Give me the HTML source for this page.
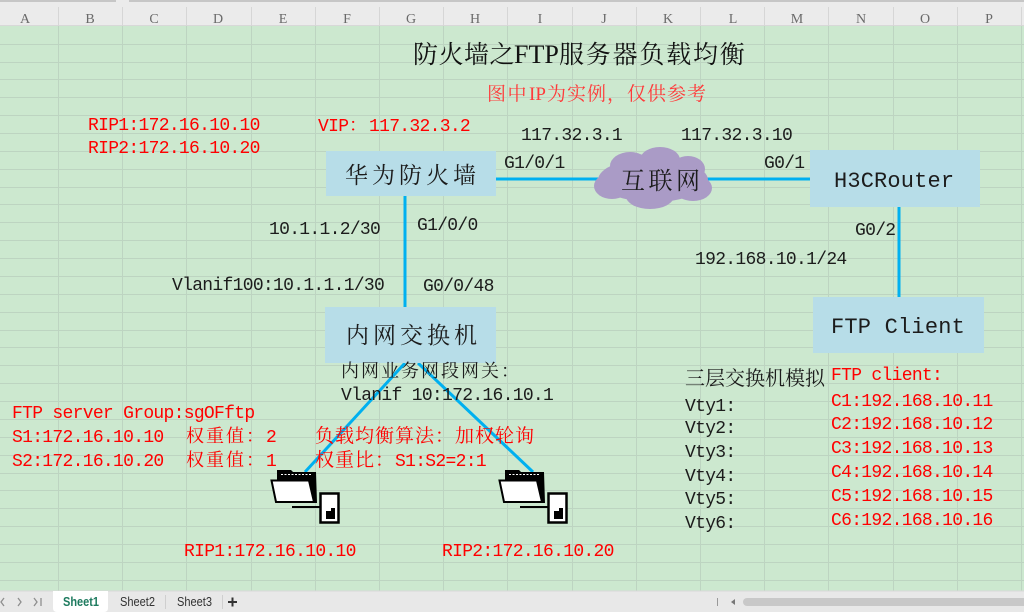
<!DOCTYPE html>
<html><head><meta charset="utf-8">
<style>
html,body{margin:0;padding:0;background:#cce8cf;width:1024px;height:612px;overflow:hidden;}
svg{display:block;}
.m{font-family:"Liberation Mono","Noto Serif CJK SC",monospace;font-size:18px;letter-spacing:-0.7px;}
.c{font-family:"Noto Serif CJK SC","Liberation Serif",serif;}
.s{font-family:"Liberation Serif","Noto Serif CJK SC",serif;}
.k{fill:#1c1c1c;}
.r{fill:#ff0000;}
.h{font-family:"Liberation Serif",serif;font-size:14px;fill:#6a6a6a;text-anchor:middle;}
.t{font-family:"Liberation Sans","Noto Sans CJK SC",sans-serif;font-size:13px;}
</style></head><body>
<svg width="1024" height="612" viewBox="0 0 1024 612" xmlns="http://www.w3.org/2000/svg">
<!-- background -->
<rect x="0" y="0" width="1024" height="612" fill="#cce8cf"/>
<!-- grid -->
<path d="M0 44.5H1024M0 62.5H1024M0 79.5H1024M0 97.5H1024M0 115.5H1024M0 133.5H1024M0 151.5H1024M0 169.5H1024M0 187.5H1024M0 204.5H1024M0 222.5H1024M0 240.5H1024M0 258.5H1024M0 276.5H1024M0 294.5H1024M0 312.5H1024M0 330.5H1024M0 347.5H1024M0 365.5H1024M0 383.5H1024M0 401.5H1024M0 419.5H1024M0 437.5H1024M0 455.5H1024M0 473.5H1024M0 490.5H1024M0 508.5H1024M0 526.5H1024M0 544.5H1024M0 562.5H1024M0 580.5H1024" stroke="#bdd4c1" stroke-width="1" fill="none"/>
<path d="M58.5 26V591M122.5 26V591M186.5 26V591M251.5 26V591M315.5 26V591M379.5 26V591M443.5 26V591M507.5 26V591M572.5 26V591M636.5 26V591M700.5 26V591M764.5 26V591M828.5 26V591M893.5 26V591M957.5 26V591M1021.5 26V591" stroke="#bdd4c1" stroke-width="1" fill="none"/>

<!-- header -->
<rect x="0" y="0" width="1024" height="26" fill="#ebebeb"/>
<rect x="0" y="0" width="116" height="2" fill="#c6c6c6"/>
<rect x="129" y="0" width="895" height="2" fill="#c6c6c6"/>
<rect x="0" y="25" width="1024" height="1" fill="#d8d8d8"/>
<path d="M58.5 7V26M122.5 7V26M186.5 7V26M251.5 7V26M315.5 7V26M379.5 7V26M443.5 7V26M507.5 7V26M572.5 7V26M636.5 7V26M700.5 7V26M764.5 7V26M828.5 7V26M893.5 7V26M957.5 7V26M1021.5 7V26" stroke="#d6d6d6" stroke-width="1"/>
<text class="h" x="25" y="23">A</text>
<text class="h" x="90" y="23">B</text>
<text class="h" x="154" y="23">C</text>
<text class="h" x="218" y="23">D</text>
<text class="h" x="283" y="23">E</text>
<text class="h" x="347" y="23">F</text>
<text class="h" x="411" y="23">G</text>
<text class="h" x="475" y="23">H</text>
<text class="h" x="540" y="23">I</text>
<text class="h" x="604" y="23">J</text>
<text class="h" x="668" y="23">K</text>
<text class="h" x="733" y="23">L</text>
<text class="h" x="797" y="23">M</text>
<text class="h" x="861" y="23">N</text>
<text class="h" x="925" y="23">O</text>
<text class="h" x="989" y="23">P</text>

<!-- title -->
<text class="c" x="413" y="63" font-size="25" letter-spacing="0.5" fill="#111">防火墙之</text>
<text class="s" x="514" y="63" font-size="26" fill="#111">FTP</text>
<text class="c" x="559" y="63" font-size="25" letter-spacing="1.8" fill="#111">服务器负载均衡</text>
<!-- subtitle -->
<text class="c" x="487" y="100" font-size="19" letter-spacing="1.5" fill="#ff3a3a">图中</text>
<text class="s" x="529" y="100" font-size="19" fill="#ff3a3a">IP</text>
<text class="c" x="547" y="100" font-size="19" letter-spacing="1" fill="#ff3a3a">为实例，仅供参考</text>

<!-- connectors -->
<g stroke="#00b0f0" stroke-width="3" fill="none">
<line x1="496" y1="179" x2="615" y2="179"/>
<line x1="695" y1="179" x2="810" y2="179"/>
<line x1="405" y1="196" x2="405" y2="307"/>
<line x1="899" y1="207" x2="899" y2="297"/>
<line x1="405" y1="363" x2="305" y2="472"/>
<line x1="418" y1="363" x2="533" y2="472"/>
</g>

<!-- boxes -->
<rect x="326" y="151" width="170" height="45" fill="#b7dde8"/>
<rect x="810" y="150" width="170" height="57" fill="#b7dde8"/>
<rect x="813" y="297" width="171" height="56" fill="#b7dde8"/>
<rect x="325" y="307" width="171" height="56" fill="#b7dde8"/>

<!-- cloud -->
<g fill="#aa9bc6">
<ellipse cx="653" cy="180" rx="55" ry="22"/>
<ellipse cx="630" cy="166" rx="20" ry="14"/>
<ellipse cx="660" cy="160" rx="20" ry="13"/>
<ellipse cx="688" cy="169" rx="17" ry="13"/>
<ellipse cx="612" cy="186" rx="18" ry="13"/>
<ellipse cx="650" cy="196" rx="24" ry="13"/>
<ellipse cx="693" cy="188" rx="19" ry="13"/>
</g>

<!-- node labels -->
<text class="c k" x="345" y="183" font-size="23" letter-spacing="4">华为防火墙</text>
<text class="c k" x="346" y="343" font-size="23" letter-spacing="4">内网交换机</text>
<text class="c k" x="621" y="189" font-size="24" letter-spacing="3.5">互联网</text>
<text class="m k" x="834" y="187" style="font-size:22px;letter-spacing:0.15px">H3CRouter</text>
<text class="m k" x="831" y="333" style="font-size:22px;letter-spacing:0.2px">FTP Client</text>

<!-- black interface labels -->
<text class="m k" x="521" y="140">117.32.3.1</text>
<text class="m k" x="681" y="140">117.32.3.10</text>
<text class="m k" x="504" y="168">G1/0/1</text>
<text class="m k" x="764" y="168">G0/1</text>
<text class="m k" x="269" y="234">10.1.1.2/30</text>
<text class="m k" x="417" y="230">G1/0/0</text>
<text class="m k" x="172" y="290">Vlanif100:10.1.1.1/30</text>
<text class="m k" x="423" y="291">G0/0/48</text>
<text class="m k" x="855" y="235">G0/2</text>
<text class="m k" x="695" y="264">192.168.10.1/24</text>
<text class="c k" x="341" y="377" font-size="18" letter-spacing="2">内网业务网段网关：</text>
<text class="m k" x="341" y="400">Vlanif 10:172.16.10.1</text>

<!-- red top-left -->
<text class="m r" x="88" y="130">RIP1:172.16.10.10</text>
<text class="m r" x="88" y="153">RIP2:172.16.10.20</text>
<text class="m r" x="318" y="131">VIP</text>
<text class="c r" x="349" y="131" font-size="18">：</text>
<text class="m r" x="369" y="131">117.32.3.2</text>

<!-- red bottom-left -->
<text class="m r" x="12" y="418">FTP server Group:sgOFftp</text>
<text class="m r" x="12" y="442">S1:172.16.10.10</text>
<text class="c r" x="186" y="442" font-size="18" letter-spacing="2">权重值：</text>
<text class="m r" x="266" y="442">2</text>
<text class="m r" x="12" y="466">S2:172.16.10.20</text>
<text class="c r" x="186" y="466" font-size="18" letter-spacing="2">权重值：</text>
<text class="m r" x="266" y="466">1</text>
<text class="c r" x="315" y="442" font-size="19" letter-spacing="1">负载均衡算法：加权轮询</text>
<text class="c r" x="315" y="466" font-size="19" letter-spacing="1">权重比：</text>
<text class="m r" x="395" y="466">S1:S2=2:1</text>
<text class="m r" x="184" y="556">RIP1:172.16.10.10</text>
<text class="m r" x="442" y="556">RIP2:172.16.10.20</text>

<!-- right column -->
<text class="c k" x="685" y="385" font-size="20">三层交换机模拟</text>
<text class="m k" x="685" y="411">Vty1:</text>
<text class="m k" x="685" y="433">Vty2:</text>
<text class="m k" x="685" y="457">Vty3:</text>
<text class="m k" x="685" y="481">Vty4:</text>
<text class="m k" x="685" y="504">Vty5:</text>
<text class="m k" x="685" y="528">Vty6:</text>
<text class="m r" x="831" y="380">FTP client:</text>
<text class="m r" x="831" y="406">C1:192.168.10.11</text>
<text class="m r" x="831" y="429">C2:192.168.10.12</text>
<text class="m r" x="831" y="453">C3:192.168.10.13</text>
<text class="m r" x="831" y="477">C4:192.168.10.14</text>
<text class="m r" x="831" y="501">C5:192.168.10.15</text>
<text class="m r" x="831" y="525">C6:192.168.10.16</text>

<!-- server icons -->
<defs>
<g id="srv">
  <path d="M505 503 L505 470 L519 470 L521 472 L544 472 L545 503 Z" fill="#000"/>
  <line x1="509" y1="474.5" x2="540" y2="474.5" stroke="#fff" stroke-width="1" stroke-dasharray="2 1.5"/>
  <path d="M499.5 480.5 L537 480.5 L542 502 L504 502 Z" fill="#fff" stroke="#000" stroke-width="2"/>
  <line x1="520" y1="507" x2="549" y2="507" stroke="#000" stroke-width="2"/>
  <rect x="548.5" y="493.5" width="18" height="29" fill="#fff" stroke="#000" stroke-width="2.5"/>
  <rect x="554" y="511" width="9" height="8" fill="#000"/>
  <rect x="559" y="508" width="4" height="3" fill="#000"/>
</g>
</defs>
<use href="#srv"/>
<use href="#srv" transform="translate(-228,0)"/>

<!-- bottom tab bar -->
<rect x="0" y="591" width="1024" height="21" fill="#e8e8e8"/>
<rect x="0" y="590.5" width="1024" height="1" fill="#d9d9d9"/>
<path d="M53 591 H108 V608 Q108 612 104 612 H57 Q53 612 53 608 Z" fill="#ffffff"/>
<g stroke="#8f8f8f" stroke-width="1.3" fill="none">
  <polyline points="4,598 1,602 4,606"/>
  <polyline points="18,598 21,602 18,606"/>
  <polyline points="34,598 37,602 34,606"/>
  <line x1="41" y1="598" x2="41" y2="606"/>
</g>
<text class="t" x="63" y="606" font-weight="bold" fill="#1e7b5f" textLength="36" lengthAdjust="spacingAndGlyphs">Sheet1</text>
<text class="t" x="120" y="606" fill="#333" textLength="35" lengthAdjust="spacingAndGlyphs">Sheet2</text>
<line x1="165.5" y1="595" x2="165.5" y2="609" stroke="#cfcfcf"/>
<text class="t" x="177" y="606" fill="#333" textLength="35" lengthAdjust="spacingAndGlyphs">Sheet3</text>
<line x1="222.5" y1="595" x2="222.5" y2="609" stroke="#cfcfcf"/>
<g stroke="#333" stroke-width="2">
  <line x1="228" y1="602" x2="237" y2="602"/>
  <line x1="232.5" y1="597.5" x2="232.5" y2="606.5"/>
</g>
<line x1="717.5" y1="598" x2="717.5" y2="606" stroke="#999"/>
<path d="M731 602 L735 599 L735 605 Z" fill="#777"/>
<rect x="743" y="598" width="300" height="8" rx="4" fill="#c8c8c8"/>
</svg>
</body></html>
